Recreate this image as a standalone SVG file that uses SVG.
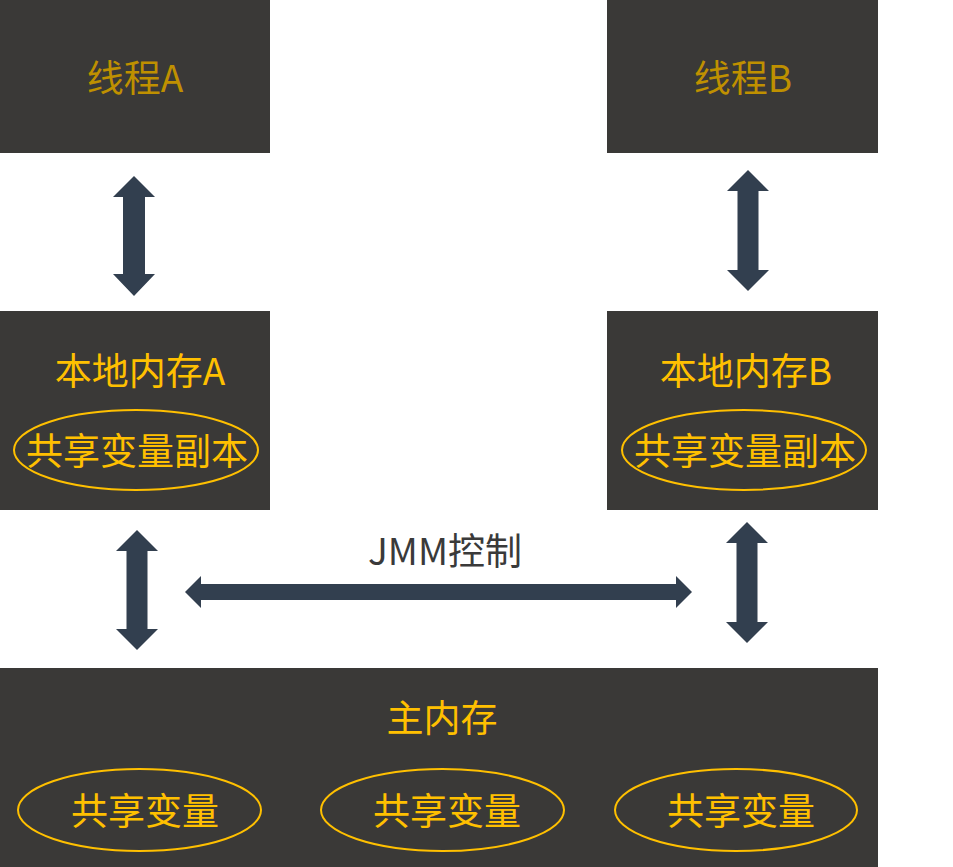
<svg xmlns="http://www.w3.org/2000/svg" width="953" height="867" viewBox="0 0 953 867">
  <style>
    .box { fill: #3a3937; }
    .lbl { font-family: "Noto Sans CJK SC", "Noto Sans", sans-serif; font-size: 37px; text-anchor: middle; fill: #ffc000; }
    .thread { fill: #bf9000; }
    .jmm { fill: #3a3a3a; }
    .oval { fill: none; stroke: #ffc000; stroke-width: 2; }
    .arrow { fill: #323f4f; }
  </style>
  <rect width="953" height="867" fill="#ffffff"/>

  <g id="threadA">
    <rect class="box" x="0" y="0" width="270" height="153"/>
    <text class="lbl thread" x="135" y="92">线程A</text>
  </g>

  <g id="threadB">
    <rect class="box" x="607" y="0" width="271" height="153"/>
    <text class="lbl thread" x="743" y="92">线程B</text>
  </g>

  <g id="localA">
    <rect class="box" x="0" y="311" width="270" height="199"/>
    <text class="lbl" x="140" y="385">本地内存A</text>
    <ellipse class="oval" cx="136" cy="450" rx="122" ry="40"/>
    <text class="lbl" x="137" y="465">共享变量副本</text>
  </g>

  <g id="localB">
    <rect class="box" x="607" y="311" width="271" height="199"/>
    <text class="lbl" x="746" y="385">本地内存B</text>
    <ellipse class="oval" cx="744" cy="450" rx="122" ry="40"/>
    <text class="lbl" x="745" y="465">共享变量副本</text>
  </g>

  <g id="mainMemory">
    <rect class="box" x="0" y="668" width="878" height="199"/>
    <text class="lbl" x="442" y="732">主内存</text>
    <ellipse class="oval" cx="139.5" cy="810" rx="121.5" ry="41"/>
    <text class="lbl" x="145" y="825">共享变量</text>
    <ellipse class="oval" cx="442.5" cy="810" rx="121.5" ry="41"/>
    <text class="lbl" x="447" y="825">共享变量</text>
    <ellipse class="oval" cx="736" cy="810" rx="121" ry="41"/>
    <text class="lbl" x="741" y="825">共享变量</text>
  </g>

  <g id="connectors">
    <!-- thread A <-> local A -->
    <path class="arrow" d="M134 176 L155 197 L145 197 L145 274 L155 274 L134 296 L113 274 L123 274 L123 197 L113 197 Z"/>
    <!-- thread B <-> local B -->
    <path class="arrow" d="M748 170 L769 191 L758.5 191 L758.5 270 L769 270 L748 291 L727 270 L737.5 270 L737.5 191 L727 191 Z"/>
    <!-- local A <-> main memory -->
    <path class="arrow" d="M137 530 L158 551 L147.5 551 L147.5 629 L158 629 L137 650 L116 629 L126.5 629 L126.5 551 L116 551 Z"/>
    <!-- local B <-> main memory -->
    <path class="arrow" d="M747 522 L768 543 L757.5 543 L757.5 622 L768 622 L747 643 L726 622 L736.5 622 L736.5 543 L726 543 Z"/>
    <!-- JMM control -->
    <path class="arrow" d="M185 592 L201 576 L201 584 L676 584 L676 576 L692 592 L676 608 L676 600 L201 600 L201 608 Z"/>
    <text class="lbl jmm" x="445" y="565">JMM控制</text>
  </g>
</svg>
